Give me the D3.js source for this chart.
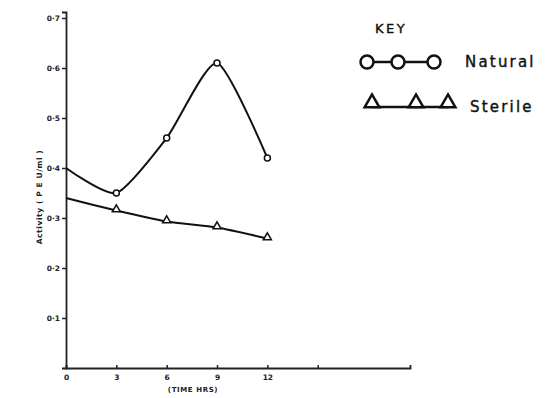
<!DOCTYPE html>
<html>
<head>
<meta charset="utf-8">
<script src="https://cdn.jsdelivr.net/npm/d3@7"></script>
<style>
  body { margin: 0; background: #fff; }
  svg { display: block; }
  .tick text { font-family: "DejaVu Sans", sans-serif; font-weight: bold; }
</style>
</head>
<body>
<div id="chart"></div>
<script>
const width = 546;
const height = 398;

// values
const hours = [0, 3, 6, 9, 12];
const natural = [0.40, 0.35, 0.46, 0.61, 0.42];
const sterile = [0.34, 0.315, 0.293, 0.281, 0.259];
const xTicks = [0, 3, 6, 9, 12, 15];
const xTickLabels = ["0", "3", "6", "9", "12", ""];
const yTicks = [0.1, 0.2, 0.3, 0.4, 0.5, 0.6, 0.7];
const yTickLabels = ["0·1", "0·2", "0·3", "0·4", "0·5", "0·6", "0·7"];
const seriesNames = ["Natural", "Sterile"];

const svg = d3.select("#chart").append("svg")
    .attr("width", width)
    .attr("height", height);

const x = d3.scaleLinear().domain([0, 20.5]).range([66, 410]);
const y = d3.scaleLinear().domain([0, 0.712]).range([368, 12]);

// axes
const xAxis = svg.append("g")
    .attr("transform", `translate(0,${y(0)})`)
    .call(d3.axisBottom(x).tickValues(xTicks).tickSize(-3).tickPadding(7)
        .tickFormat((d, i) => xTickLabels[i]));
xAxis.select(".domain").attr("stroke", "#222").attr("stroke-width", 1.8);
xAxis.selectAll(".tick line").attr("stroke", "#222").attr("stroke-width", 1.5);
xAxis.selectAll(".tick text").attr("font-size", 7.5).attr("fill", "#222");

const yAxis = svg.append("g")
    .attr("transform", `translate(${x(0)},0)`)
    .call(d3.axisLeft(y).tickValues(yTicks).tickSize(4).tickPadding(2)
        .tickFormat((d, i) => yTickLabels[i]));
yAxis.select(".domain").attr("stroke", "#222").attr("stroke-width", 1.8);
yAxis.selectAll(".tick line").attr("stroke", "#222").attr("stroke-width", 1.5);
yAxis.selectAll(".tick text").attr("font-size", 7.5).attr("fill", "#222").attr("dy", "0.3em");

// axis titles
svg.append("text")
    .attr("x", 193).attr("y", 392)
    .attr("text-anchor", "middle")
    .attr("font-family", "DejaVu Sans, sans-serif")
    .attr("font-size", 7).attr("font-weight", "bold").attr("fill", "#222")
    .attr("letter-spacing", 0.6)
    .text("(TIME HRS)");

svg.append("text")
    .attr("transform", "translate(42,197) rotate(-90)")
    .attr("text-anchor", "middle")
    .attr("font-family", "DejaVu Sans, sans-serif")
    .attr("font-size", 7.5).attr("font-weight", "bold").attr("fill", "#222")
    .attr("letter-spacing", 0.6)
    .text("Activity ( P E U/ml )");

// lines
const line = d3.line()
    .x(d => x(d[0]))
    .y(d => y(d[1]))
    .curve(d3.curveCardinal.tension(0.35));

const natPts = hours.map((h, i) => [h, natural[i]]);
const sterPts = hours.map((h, i) => [h, sterile[i]]);

svg.append("path").datum(natPts)
    .attr("d", line).attr("fill", "none")
    .attr("stroke", "#111").attr("stroke-width", 2);
svg.append("path").datum(sterPts)
    .attr("d", line).attr("fill", "none")
    .attr("stroke", "#111").attr("stroke-width", 2);

// markers (none at time 0)
svg.selectAll(".nat").data(natPts.slice(1)).enter().append("circle")
    .attr("cx", d => x(d[0])).attr("cy", d => y(d[1])).attr("r", 3)
    .attr("fill", "#fff").attr("stroke", "#111").attr("stroke-width", 1.5);

const tri = d3.symbol().type(d3.symbolTriangle).size(28);
svg.selectAll(".ster").data(sterPts.slice(1)).enter().append("path")
    .attr("d", tri)
    .attr("transform", d => `translate(${x(d[0])},${y(d[1]) - 1})`)
    .attr("fill", "#fff").attr("stroke", "#111").attr("stroke-width", 1.5);

// key
const key = svg.append("g");
key.append("text")
    .attr("x", 375).attr("y", 33)
    .attr("font-family", "DejaVu Sans, sans-serif")
    .attr("font-size", 13).attr("fill", "#111")
    .attr("stroke", "#111").attr("stroke-width", 0.4)
    .attr("letter-spacing", 2.5)
    .text("KEY");

const circX = [367, 398, 434];
key.append("line")
    .attr("x1", circX[0]).attr("x2", circX[2]).attr("y1", 62).attr("y2", 62)
    .attr("stroke", "#111").attr("stroke-width", 2.5);
key.selectAll(".kc").data(circX).enter().append("circle")
    .attr("cx", d => d).attr("cy", 62).attr("r", 6.5)
    .attr("fill", "#fff").attr("stroke", "#111").attr("stroke-width", 2.5);
key.append("text")
    .attr("x", 465).attr("y", 67)
    .attr("font-family", "DejaVu Sans, sans-serif")
    .attr("font-size", 15).attr("fill", "#111")
    .attr("stroke", "#111").attr("stroke-width", 0.4)
    .attr("letter-spacing", 2.2)
    .text(seriesNames[0]);

const triX = [372, 416, 448];
key.append("line")
    .attr("x1", triX[0]).attr("x2", triX[2]).attr("y1", 107).attr("y2", 107)
    .attr("stroke", "#111").attr("stroke-width", 2.5);
const bigTri = d3.symbol().type(d3.symbolTriangle).size(95);
key.selectAll(".kt").data(triX).enter().append("path")
    .attr("d", bigTri)
    .attr("transform", d => `translate(${d},103)`)
    .attr("fill", "#fff").attr("stroke", "#111").attr("stroke-width", 2.5);
key.append("text")
    .attr("x", 470).attr("y", 112)
    .attr("font-family", "DejaVu Sans, sans-serif")
    .attr("font-size", 15).attr("fill", "#111")
    .attr("stroke", "#111").attr("stroke-width", 0.4)
    .attr("letter-spacing", 2.2)
    .text(seriesNames[1]);
</script>
</body>
</html>
